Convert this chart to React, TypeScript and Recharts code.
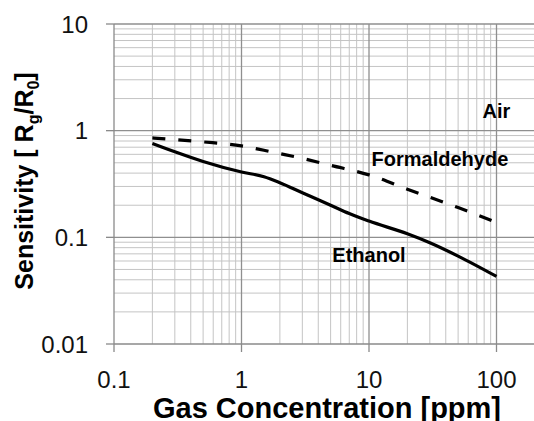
import React from 'react';
import { LineChart, Line, XAxis, YAxis, ReferenceLine, ReferenceDot } from 'recharts';

const ethanolX = [0.2, 0.3, 0.5, 1, 1.5, 2, 3, 5, 7, 10, 20, 30, 50, 100];
const ethanolY = [0.76, 0.635, 0.515, 0.41, 0.37, 0.325, 0.262, 0.2, 0.167, 0.142, 0.108, 0.089, 0.0667, 0.043];

const formX = [0.2, 0.5, 1, 1.5, 2, 3, 5, 10, 20, 50, 100];
const formY = [0.855, 0.785, 0.72, 0.655, 0.61, 0.55, 0.473, 0.385, 0.283, 0.19, 0.138];

const xDecades = [0.1, 1, 10, 100, 1000];
const yDecades = [0.01, 0.1, 1, 10];
const xTicks = [0.1, 1, 10, 100];
const yTicks = [0.01, 0.1, 1, 10];
const xTickLabels = ['0.1', '1', '10', '100'];
const yTickLabels = ['0.01', '0.1', '1', '10'];

const noteTexts = ['Air', 'Formaldehyde', 'Ethanol'];
const noteX = [100, 36, 10];
const noteY = [1.52, 0.543, 0.068];

const minorSteps = [2, 3, 4, 5, 6, 7, 8, 9];
const xMinor = xDecades.slice(0, -1).flatMap((d) => minorSteps.map((m) => +(d * m).toPrecision(3)));
const yMinor = yDecades.slice(0, -1).flatMap((d) => minorSteps.map((m) => +(d * m).toPrecision(3)));

const ethanolData = ethanolX.map((x, i) => ({ x, y: ethanolY[i] }));
const formData = formX.map((x, i) => ({ x, y: formY[i] }));

const FONT = '"Liberation Sans", Arial, Helvetica, sans-serif';
const MINOR = '#c4c4c4';
const MAJOR = '#8f8f8f';

const YTitle = (props: any) => {
  const vb = props.viewBox || {};
  const cx = vb.x + 33;
  const cy = vb.y + vb.height / 2 - 3;
  return (
    <text
      x={cx}
      y={cy}
      transform={`rotate(-90, ${cx}, ${cy})`}
      textAnchor="middle"
      fontFamily={FONT}
      fontWeight="bold"
      fontSize={25}
      fill="#000"
    >
      Sensitivity [ R<tspan dy={6} fontSize={16}>g</tspan>
      <tspan dy={-6}>/R</tspan>
      <tspan dy={6} fontSize={16}>0</tspan>
      <tspan dy={-6}>]</tspan>
    </text>
  );
};

const XTitle = (props: any) => {
  const vb = props.viewBox || {};
  return (
    <text
      x={vb.x + 213}
      y={vb.y + 74}
      textAnchor="middle"
      fontFamily={FONT}
      fontWeight="bold"
      fontSize={29}
      fill="#000"
    >
      Gas Concentration [ppm]
    </text>
  );
};

const makeNote = (text: string) => (props: any) => {
  const vb = props.viewBox || {};
  const cx = vb.x + (vb.width || 0) / 2;
  const cy = vb.y + (vb.height || 0) / 2;
  return (
    <text
      x={cx}
      y={cy}
      dy={7}
      textAnchor="middle"
      fontFamily={FONT}
      fontWeight="bold"
      fontSize={20}
      fill="#000"
    >
      {text}
    </text>
  );
};

export default function App() {
  return (
    <div style={{ position: 'absolute', left: 0, top: 0, width: 534, height: 421, overflow: 'hidden', background: '#fff' }}>
      <LineChart width={640} height={421} margin={{ top: 24, right: 16, bottom: 0, left: 0 }}>
        <XAxis
          dataKey="x"
          type="number"
          scale="log"
          domain={[0.1, 1000]}
          ticks={xTicks}
          tickFormatter={(v: number) => xTickLabels[xTicks.indexOf(v)] ?? String(v)}
          allowDataOverflow
          height={77}
          stroke="#8a8a8a"
          strokeWidth={1.3}
          tickSize={8}
          tickMargin={19}
          tick={{ fill: '#111', fontSize: 24, fontFamily: FONT }}
          label={{ content: (p: any) => <XTitle {...p} /> }}
        />
        <YAxis
          dataKey="y"
          type="number"
          scale="log"
          domain={[0.01, 10]}
          ticks={yTicks}
          tickFormatter={(v: number) => yTickLabels[yTicks.indexOf(v)] ?? String(v)}
          allowDataOverflow
          width={114}
          stroke="#8a8a8a"
          strokeWidth={1.3}
          tickSize={8}
          tickMargin={18}
          tick={{ fill: '#111', fontSize: 24, fontFamily: FONT }}
          label={{ content: (p: any) => <YTitle {...p} /> }}
        />
        {xMinor.map((v) => (
          <ReferenceLine key={'xm' + v} x={v} stroke={MINOR} strokeWidth={1} />
        ))}
        {yMinor.map((v) => (
          <ReferenceLine key={'ym' + v} y={v} stroke={MINOR} strokeWidth={1} />
        ))}
        {xDecades.slice(1).map((v) => (
          <ReferenceLine key={'xM' + v} x={v} stroke={MAJOR} strokeWidth={1.3} />
        ))}
        {yDecades.slice(1).map((v) => (
          <ReferenceLine key={'yM' + v} y={v} stroke={MAJOR} strokeWidth={1.3} />
        ))}
        <Line
          data={formData}
          dataKey="y"
          type="monotone"
          stroke="#000"
          strokeWidth={3.2}
          strokeDasharray="13 13"
          dot={false}
          isAnimationActive={false}
        />
        <Line
          data={ethanolData}
          dataKey="y"
          type="monotone"
          stroke="#000"
          strokeWidth={3.2}
          dot={false}
          isAnimationActive={false}
        />
        {noteTexts.map((t, i) => (
          <ReferenceDot
            key={t}
            x={noteX[i]}
            y={noteY[i]}
            r={1}
            fill="none"
            stroke="none"
            label={{ content: makeNote(t) }}
          />
        ))}
      </LineChart>
    </div>
  );
}
